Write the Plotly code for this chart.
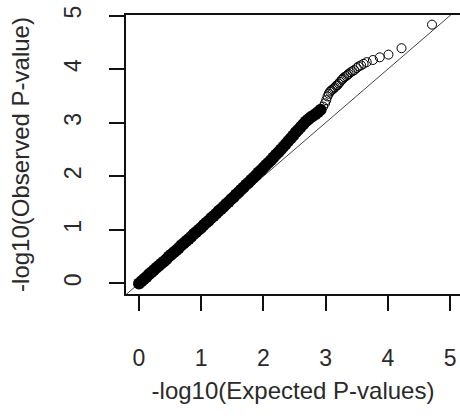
import plotly.graph_objects as go

# Dense part of the Q-Q cloud (-log10 expected, -log10 observed)
dense_expected = [0.00, 0.04, 0.08, 0.12, 0.16, 0.20, 0.24, 0.28, 0.32, 0.36,
                  0.40, 0.44, 0.48, 0.52, 0.56, 0.60, 0.64, 0.68, 0.72, 0.76,
                  0.80, 0.84, 0.88, 0.92, 0.96, 1.00, 1.04, 1.08, 1.12, 1.16,
                  1.20, 1.24, 1.28, 1.32, 1.36, 1.40, 1.44, 1.48, 1.52, 1.56,
                  1.60, 1.64, 1.68, 1.72, 1.76, 1.80, 1.84, 1.88, 1.92, 1.96,
                  2.00, 2.04, 2.08, 2.12, 2.16, 2.20, 2.24, 2.28, 2.32, 2.36,
                  2.40, 2.44, 2.48, 2.52, 2.56, 2.60, 2.64, 2.68, 2.72, 2.76,
                  2.80, 2.84, 2.88, 2.92]
dense_observed = [0.00, 0.04, 0.08, 0.12, 0.17, 0.21, 0.25, 0.29, 0.33, 0.37,
                  0.41, 0.45, 0.50, 0.54, 0.58, 0.62, 0.66, 0.71, 0.75, 0.79,
                  0.83, 0.87, 0.92, 0.96, 1.00, 1.04, 1.09, 1.13, 1.17, 1.22,
                  1.26, 1.30, 1.35, 1.39, 1.43, 1.48, 1.52, 1.57, 1.61, 1.66,
                  1.70, 1.75, 1.79, 1.84, 1.88, 1.93, 1.97, 2.02, 2.07, 2.11,
                  2.16, 2.21, 2.25, 2.30, 2.35, 2.40, 2.45, 2.50, 2.55, 2.60,
                  2.66, 2.71, 2.76, 2.82, 2.87, 2.92, 2.97, 3.02, 3.06, 3.10,
                  3.13, 3.16, 3.20, 3.24]

# Sparse upper tail
tail_expected = [2.96, 2.99, 3.01, 3.03, 3.05, 3.07, 3.09, 3.11, 3.13, 3.15,
                 3.17, 3.19, 3.21, 3.23, 3.26, 3.28, 3.30, 3.33, 3.35, 3.37,
                 3.40, 3.43, 3.46, 3.50, 3.53, 3.57, 3.61, 3.66, 3.76, 3.87,
                 4.01, 4.22, 4.71]
tail_observed = [3.30, 3.36, 3.42, 3.49, 3.54, 3.58, 3.60, 3.62, 3.64, 3.66,
                 3.69, 3.70, 3.73, 3.76, 3.80, 3.82, 3.85, 3.87, 3.89, 3.91,
                 3.94, 3.96, 3.98, 4.02, 4.05, 4.07, 4.10, 4.13, 4.17, 4.22,
                 4.27, 4.39, 4.83]

tick_values = [0, 1, 2, 3, 4, 5]
x_range = [-0.209, 5.16]
y_range = [-0.198, 5.01]

FONT = "Liberation Sans, Arial, sans-serif"
TEXT_COLOR = "#2a2a2a"

fig = go.Figure()
# y = x reference line across the axis range
fig.add_trace(go.Scatter(x=[-1, 6], y=[-1, 6], mode="lines",
                         line=dict(color="#444444", width=1),
                         hoverinfo="skip", showlegend=False))
fig.add_trace(go.Scatter(x=dense_expected, y=dense_observed, mode="markers",
                         marker=dict(symbol="circle", size=12, color="black",
                                     line=dict(width=0)),
                         showlegend=False))
fig.add_trace(go.Scatter(x=tail_expected, y=tail_observed, mode="markers",
                         marker=dict(symbol="circle-open", size=9, color="black",
                                     line=dict(width=1, color="black")),
                         showlegend=False))

axis_common = dict(
    tickvals=tick_values, ticktext=[str(v) for v in tick_values],
    showgrid=False, zeroline=False,
    showline=True, linecolor="#111111", linewidth=1.6,
    ticks="outside", ticklen=15, tickwidth=1.6, tickcolor="#111111",
    tickfont=dict(family=FONT, size=23, color=TEXT_COLOR),
)

fig.update_xaxes(range=x_range, mirror=True, ticklabelstandoff=28,
                 title=dict(text="-log10(Expected P-values)",
                            font=dict(family=FONT, size=24, color=TEXT_COLOR),
                            standoff=12),
                 **axis_common)
fig.update_yaxes(range=y_range, mirror=False, tickangle=-90, ticklabelstandoff=19,
                 title=dict(text="-log10(Observed P-value)",
                            font=dict(family=FONT, size=24, color=TEXT_COLOR),
                            standoff=24),
                 **axis_common)

fig.update_layout(width=460, height=419,
                  margin=dict(l=126, r=0, t=15, b=125),
                  paper_bgcolor="white", plot_bgcolor="white")

fig.write_html("out.html")
